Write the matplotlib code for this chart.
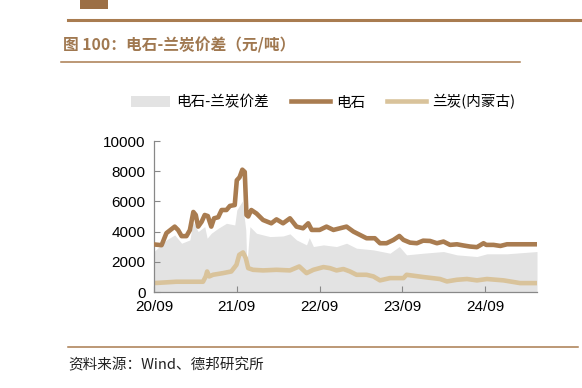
import numpy as np
import matplotlib
matplotlib.use("Agg")
import matplotlib.pyplot as plt
from matplotlib.lines import Line2D
from matplotlib.patches import Rectangle

plt.rcParams['font.family'] = ['Liberation Sans', 'Noto Sans CJK SC', 'DejaVu Sans']

# months since 2020-09
tick_pos = [0, 12, 24, 36, 48]
tick_labels = ["20/09", "21/09", "22/09", "23/09", "24/09"]

# 电石
carbide_m = [0, 1.1, 1.8, 3.0, 3.5, 4.0, 4.7, 5.2, 5.7, 6.05, 6.4, 6.9, 7.35, 7.8,
             8.3, 8.7, 9.3, 9.8, 10.5, 11.0, 11.7, 12.0, 12.4, 12.8, 13.15, 13.4,
             13.65, 14.1, 14.85, 15.8, 17.0, 17.75, 18.7, 19.7, 20.65, 21.6, 22.35,
             22.85, 24.0, 25.0, 26.0, 26.95, 27.9, 28.9, 29.85, 30.8, 32.0, 32.75,
             33.7, 34.7, 35.55, 36.15, 37.1, 38.1, 39.0, 40.0, 41.0, 41.95, 42.9,
             43.9, 44.85, 45.8, 46.8, 47.75, 48.15, 49.2, 50.2, 51.15, 53.55, 55.5]
carbide_v = [3150, 3100, 3900, 4330, 4100, 3700, 3700, 4100, 5300, 5100, 4330, 4650,
             5100, 5030, 4330, 4880, 4950, 5430, 5430, 5700, 5760, 7400, 7600, 8100,
             7950, 5100, 5000, 5430, 5200, 4770, 4550, 4810, 4550, 4880, 4330, 4220,
             4550, 4110, 4110, 4330, 4110, 4220, 4330, 4000, 3780, 3560, 3560, 3230,
             3230, 3450, 3710, 3450, 3270, 3230, 3400, 3380, 3230, 3340, 3120, 3160,
             3080, 3010, 2970, 3230, 3120, 3120, 3050, 3160, 3160, 3160]

# 兰炭(内蒙古)
lanthan_m = [0, 3.25, 7.1, 7.5, 7.7, 8.0, 8.55, 10.0, 11.2, 11.95, 12.35, 12.9, 13.3,
             13.65, 14.35, 15.8, 17.75, 19.7, 21.05, 22.1, 23.1, 24.55, 25.5, 26.45,
             27.45, 28.4, 29.35, 30.8, 31.8, 32.75, 34.2, 36.15, 36.6, 39.05, 41.45,
             42.45, 43.9, 45.35, 46.8, 48.25, 50.65, 53.05, 55.5]
lanthan_v = [590, 680, 680, 1030, 1360, 1030, 1140, 1250, 1360, 1800, 2460, 2620, 2240,
             1580, 1470, 1430, 1470, 1430, 1690, 1250, 1470, 1650, 1580, 1430, 1520,
             1360, 1140, 1140, 1030, 770, 920, 920, 1140, 990, 860, 700, 810, 860,
             770, 860, 770, 590, 590]

# 电石-兰炭价差
spread_m = [0, 1.8, 3.0, 4.0, 5.2, 5.65, 6.4, 7.35, 7.7, 8.3, 9.3, 10.5, 11.7, 12.0,
            12.8, 13.3, 13.45, 13.9, 14.85, 16.8, 18.7, 19.7, 20.65, 22.1, 22.5, 23.1,
            24.55, 26.45, 27.9, 29.35, 31.8, 34.2, 35.55, 36.6, 39.05, 41.95, 43.9,
            46.8, 48.25, 51.15, 55.5]
spread_v = [2680, 3450, 3780, 3230, 3450, 4660, 4000, 4330, 3560, 3890, 4220, 4550,
            4440, 5430, 6020, 4110, 1790, 4330, 3890, 3670, 3710, 3850, 3450, 3120,
            3600, 3010, 3120, 3010, 3230, 2900, 2790, 2570, 3010, 2460, 2570, 2680,
            2460, 2350, 2530, 2530, 2680]

brown = "#A97C50"
beige = "#D9C39B"
grey = "#E3E3E3"
cjk = ['Noto Sans CJK SC', 'DejaVu Sans']

fig = plt.figure(figsize=(5.82, 3.88), dpi=100)

# header / footer decoration
fig.add_artist(Rectangle((80 / 582, 1 - 9 / 388), 28 / 582, 9 / 388,
                         transform=fig.transFigure, color="#9C6F45", lw=0))
fig.add_artist(Line2D([68 / 582, 1.0], [1 - 19.5 / 388] * 2, transform=fig.transFigure,
                      color=brown, lw=2.2))
fig.add_artist(Line2D([61 / 582, 520 / 582], [1 - 62 / 388] * 2, transform=fig.transFigure,
                      color=brown, lw=1.1))
fig.add_artist(Line2D([68 / 582, 578 / 582], [1 - 347 / 388] * 2, transform=fig.transFigure,
                      color=brown, lw=1.1))
fig.text(63 / 582, 1 - 45 / 388, "图 100：电石-兰炭价差（元/吨）", fontsize=11.3,
         fontweight="bold", color="#A07850", va="center", family=cjk)
fig.text(68 / 582, 1 - 365 / 388, "资料来源：Wind、德邦研究所", fontsize=10.5,
         color="#222222", va="center", family=cjk)

ax = fig.add_axes([154 / 582, 96 / 388, 383 / 582, 151 / 388])
ax.fill_between(spread_m, 0, spread_v, color=grey, lw=0, label="电石-兰炭价差", zorder=1)
ax.plot(carbide_m, carbide_v, color=brown, lw=3.3, label="电石", zorder=3,
        solid_joinstyle="round")
ax.plot(lanthan_m, lanthan_v, color=beige, lw=3.3, label="兰炭(内蒙古)", zorder=2,
        solid_joinstyle="round")

ax.set_xlim(0, 55.5)
ax.set_ylim(0, 10000)
ax.set_yticks(range(0, 10001, 2000))
ax.set_xticks(tick_pos)
ax.set_xticklabels(tick_labels)
ax.tick_params(direction="in", labelsize=11, length=4, color="#888888", pad=6)
for s in ["top", "right"]:
    ax.spines[s].set_visible(False)
for s in ["left", "bottom"]:
    ax.spines[s].set_color("#888888")
    ax.spines[s].set_linewidth(0.9)

handles, labels = ax.get_legend_handles_labels()
fig.legend(handles, labels, loc="center", bbox_to_anchor=(323 / 582, 1 - 102 / 388),
           ncol=3, frameon=False, handlelength=2.7, handletextpad=0.4,
           columnspacing=1.5, prop={'family': cjk, 'size': 10.5})

fig.savefig("out.png", dpi=100)
